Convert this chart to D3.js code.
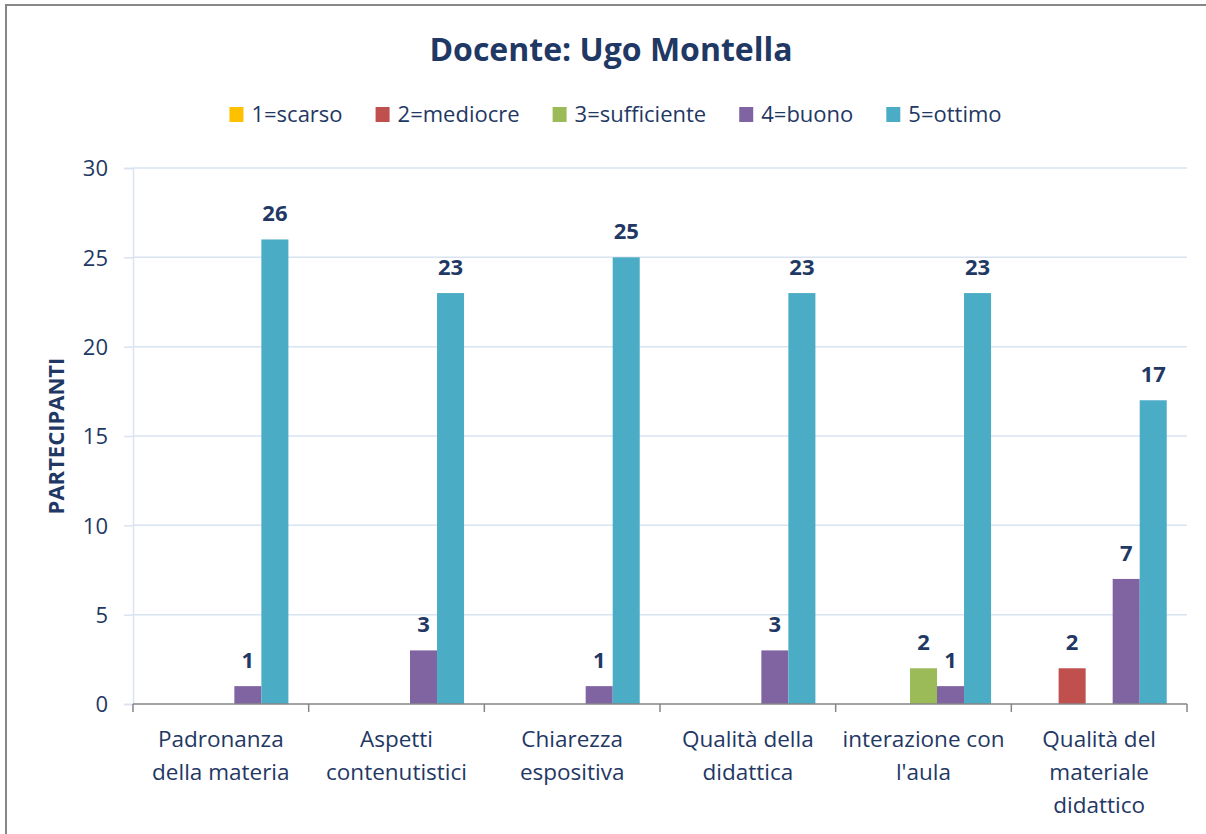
<!DOCTYPE html>
<html>
<head>
<meta charset="utf-8">
<script src="https://cdn.jsdelivr.net/npm/d3@7"></script>
<style>
  body { margin: 0; background: #fff; }
  svg { display: block; font-family: "Open Sans", sans-serif; }
</style>
</head>
<body>
<div id="chart"></div>
<script>
// dati del grafico
const categories = [
    "Padronanza\ndella materia",
    "Aspetti\ncontenutistici",
    "Chiarezza\nespositiva",
    "Qualità della\ndidattica",
    "interazione con\nl'aula",
    "Qualità del\nmateriale\ndidattico"
];
const seriesNames = ["1=scarso", "2=mediocre", "3=sufficiente", "4=buono", "5=ottimo"];
const seriesColors = ["#FFC000", "#C0504D", "#9BBB59", "#8064A2", "#4BACC6"];
const scarso = [null, null, null, null, null, null];
const mediocre = [null, null, null, null, null, 2];
const sufficiente = [null, null, null, null, 2, null];
const buono = [1, 3, 1, 3, 1, 7];
const ottimo = [26, 23, 25, 23, 23, 17];
const yTicks = [0, 5, 10, 15, 20, 25, 30];

const seriesValues = [scarso, mediocre, sufficiente, buono, ottimo];
const textColor = "#1F3864";

const W = 1206, H = 834;
const plot = { left: 133, right: 1187, top: 168, bottom: 704 };

const svg = d3.select("#chart").append("svg")
    .attr("width", W)
    .attr("height", H);

// cornice
svg.append("rect")
    .attr("x", 6).attr("y", 5)
    .attr("width", 1400).attr("height", 1000)
    .attr("fill", "none")
    .attr("stroke", "#878787")
    .attr("stroke-width", 2);

// titolo
svg.append("text")
    .attr("x", 611).attr("y", 61)
    .attr("text-anchor", "middle")
    .style("font-size", "32px")
    .style("font-weight", "bold")
    .style("fill", textColor)
    .text("Docente: Ugo Montella");

// scale
const x0 = d3.scaleBand()
    .domain(categories)
    .range([plot.left, plot.right])
    .padding(0);

const x1 = d3.scaleBand()
    .domain(seriesNames)
    .range([0, x0.bandwidth()])
    .paddingInner(0)
    .paddingOuter(0.75);

const y = d3.scaleLinear()
    .domain([0, 30])
    .range([plot.bottom, plot.top]);

// griglia orizzontale
svg.append("g")
    .selectAll("line")
    .data(yTicks.filter(d => d > 0))
    .enter().append("line")
    .attr("x1", plot.left).attr("x2", plot.right)
    .attr("y1", d => y(d)).attr("y2", d => y(d))
    .attr("stroke", "#D9E3F1")
    .attr("stroke-width", 1.5);

// asse y
const yAxis = svg.append("g")
    .attr("transform", `translate(${plot.left},0)`)
    .call(d3.axisLeft(y).tickValues(yTicks).tickSize(9).tickPadding(16));
yAxis.select(".domain").attr("stroke", "#D9E3F1").attr("stroke-width", 1.5);
yAxis.selectAll(".tick line").attr("stroke", "#D9E3F1").attr("stroke-width", 1.5);
yAxis.selectAll("text")
    .style("font-size", "22px")
    .style("font-family", "'Open Sans', sans-serif")
    .style("fill", textColor)
    .attr("dy", "0.36em");

// titolo asse y
svg.append("text")
    .attr("transform", `translate(64, ${(plot.top + plot.bottom) / 2}) rotate(-90)`)
    .attr("text-anchor", "middle")
    .style("font-size", "22px")
    .style("font-weight", "bold")
    .style("fill", textColor)
    .text("PARTECIPANTI");

// barre
const groups = svg.append("g")
    .selectAll("g")
    .data(seriesNames.map((name, i) => ({ name, color: seriesColors[i], values: seriesValues[i] })))
    .enter().append("g")
    .attr("fill", d => d.color);

groups.selectAll("rect")
    .data(d => d.values.map((v, j) => ({ name: d.name, cat: categories[j], v })).filter(e => e.v !== null))
    .enter().append("rect")
    .attr("x", d => x0(d.cat) + x1(d.name))
    .attr("width", x1.bandwidth())
    .attr("y", d => y(d.v))
    .attr("height", d => y(0) - y(d.v));

// etichette dati
groups.selectAll("text")
    .data(d => d.values.map((v, j) => ({ name: d.name, cat: categories[j], v })).filter(e => e.v !== null))
    .enter().append("text")
    .attr("x", d => x0(d.cat) + x1(d.name) + x1.bandwidth() / 2)
    .attr("y", d => y(d.v) - 18)
    .attr("text-anchor", "middle")
    .style("font-size", "22px")
    .style("font-weight", "bold")
    .style("fill", textColor)
    .text(d => d.v);

// asse x
svg.append("line")
    .attr("x1", plot.left).attr("x2", plot.right)
    .attr("y1", y(0)).attr("y2", y(0))
    .attr("stroke", "#868686")
    .attr("stroke-width", 1.5);

const bounds = categories.map(c => x0(c)).concat([plot.right]);
svg.append("g")
    .selectAll("line")
    .data(bounds)
    .enter().append("line")
    .attr("x1", d => d).attr("x2", d => d)
    .attr("y1", y(0)).attr("y2", y(0) + 8)
    .attr("stroke", "#868686")
    .attr("stroke-width", 1.5);

const catLabels = svg.append("g")
    .selectAll("text")
    .data(categories)
    .enter().append("text")
    .attr("x", d => x0(d) + x0.bandwidth() / 2)
    .attr("y", 747)
    .attr("text-anchor", "middle")
    .style("font-size", "22.5px")
    .style("fill", textColor);

catLabels.selectAll("tspan")
    .data(d => d.split("\n").map((line, i) => ({ line, i, cx: x0(d) + x0.bandwidth() / 2 })))
    .enter().append("tspan")
    .attr("x", d => d.cx)
    .attr("y", d => 747 + d.i * 33)
    .text(d => d.line);

// legenda
const legend = svg.append("g");
let cursor = 0;
seriesNames.forEach((name, i) => {
    const item = legend.append("g").attr("transform", `translate(${cursor},0)`);
    item.append("rect")
        .attr("x", 0).attr("y", 107)
        .attr("width", 14).attr("height", 15)
        .attr("fill", seriesColors[i]);
    const t = item.append("text")
        .attr("x", 22).attr("y", 122)
        .style("font-size", "22px")
        .style("fill", textColor)
        .text(name);
    cursor += 22 + t.node().getComputedTextLength() + 33;
});
const legendWidth = cursor - 33;
legend.attr("transform", `translate(${615.5 - legendWidth / 2},0)`);
</script>
</body>
</html>
